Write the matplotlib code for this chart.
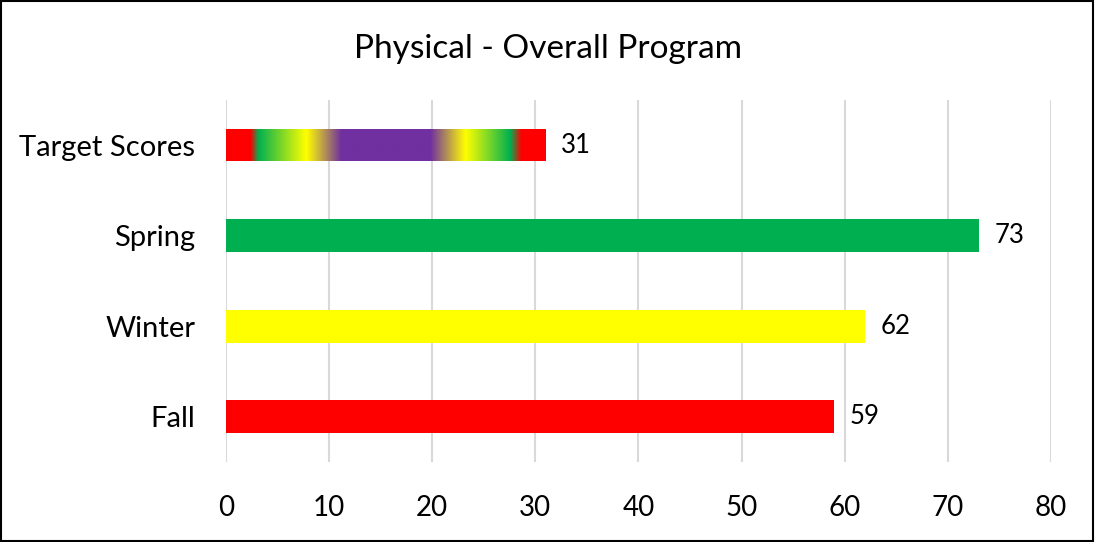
import numpy as np
from matplotlib import pyplot as plt
from matplotlib.colors import LinearSegmentedColormap
from matplotlib.patches import Rectangle

categories = ["Fall", "Winter", "Spring", "Target Scores"]
scores = [59, 62, 73, 31]
bar_colors = ["#FF0000", "#FFFF00", "#00B050", None]

# gradient stops of the target bar (position along bar, colour)
grad_stops = [(0.0, "#FF0000"), (0.075, "#FF0000"), (0.10, "#00B050"), (0.25, "#FFFF00"),
              (0.36, "#7030A0"), (0.64, "#7030A0"), (0.75, "#FFFF00"), (0.89, "#00B050"),
              (0.925, "#FF0000"), (1.0, "#FF0000")]

plt.rcParams['font.family'] = ['Lato', 'DejaVu Sans']

fig = plt.figure(figsize=(10.95, 5.42), dpi=100)
ax = fig.add_axes([0.2064, 0.1476, 0.7534, 0.668])

y = np.arange(len(categories))
height = 0.36
bars = ax.barh(y, scores, height=height, color=[c if c else "none" for c in bar_colors], zorder=3)

# gradient fill for the target bar
cmap = LinearSegmentedColormap.from_list("target", grad_stops)
tb = bars[3]
grad = np.linspace(0, 1, 512).reshape(1, -1)
im = ax.imshow(grad, cmap=cmap, aspect="auto", zorder=3,
               extent=[0, scores[3], y[3] - height / 2, y[3] + height / 2])
im.set_clip_path(tb)

for i, v in enumerate(scores):
    ax.text(v + 1.5, y[i], str(v), va="center", ha="left", fontsize=18.5, zorder=4)

ax.set_xlim(0, 80)
ax.set_ylim(-0.5, 3.5)
ax.set_xticks(range(0, 81, 10))
ax.set_yticks(y)
ax.set_yticklabels(categories)
ax.tick_params(axis="x", length=0, pad=24, labelsize=20)
ax.tick_params(axis="y", length=0, pad=22, labelsize=21)
ax.grid(axis="x", color="#D9D9D9", linewidth=1.5, zorder=0)
for s in ax.spines.values():
    s.set_visible(False)

fig.text(0.5, 0.91, "Physical - Overall Program", ha="center", va="center", fontsize=24)
fig.patches.append(Rectangle((0.001, 0.002), 0.997, 0.996, transform=fig.transFigure,
                             fill=False, edgecolor="black", linewidth=1.5))

fig.savefig("out.png", dpi=100)
